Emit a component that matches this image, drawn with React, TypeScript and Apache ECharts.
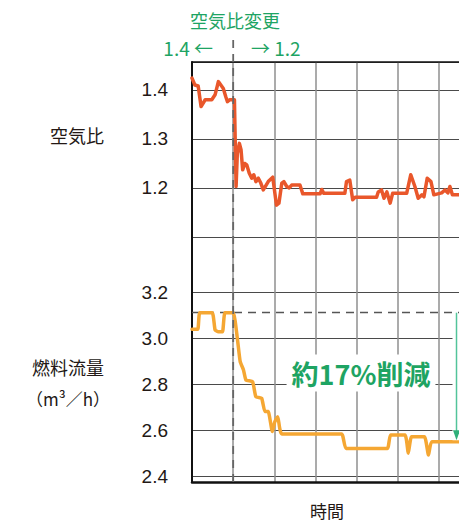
import React, { useEffect, useRef } from "react";
import * as echarts from "echarts";

// Time axis (in grid-interval units); the dashed line marks the change at t = 1
const airTime = [0, 0.07, 0.15, 0.22, 0.32, 0.48, 0.56, 0.64, 0.7, 0.76, 0.82, 0.86, 0.92, 1.03, 1.07, 1.1, 1.15, 1.19, 1.23, 1.28, 1.33, 1.39, 1.45, 1.5, 1.55, 1.61, 1.67, 1.73, 1.8, 1.85, 1.96, 2.05, 2.11, 2.18, 2.23, 2.3, 2.36, 2.42, 2.62, 2.69, 3.11, 3.15, 3.2, 3.71, 3.75, 3.83, 3.9, 3.96, 4.48, 4.52, 4.6, 4.66, 4.73, 4.81, 4.87, 5.21, 5.31, 5.41, 5.49, 5.58, 5.63, 5.71, 5.8, 5.87, 6.06, 6.14, 6.21, 6.26, 6.32, 6.6];
const airRatio = [1.424, 1.41, 1.408, 1.366, 1.38, 1.38, 1.39, 1.417, 1.41, 1.403, 1.386, 1.376, 1.38, 1.38, 1.203, 1.27, 1.291, 1.278, 1.237, 1.25, 1.247, 1.23, 1.22, 1.227, 1.213, 1.22, 1.21, 1.196, 1.206, 1.213, 1.222, 1.165, 1.169, 1.21, 1.213, 1.203, 1.2, 1.206, 1.206, 1.188, 1.188, 1.197, 1.189, 1.189, 1.213, 1.216, 1.176, 1.181, 1.181, 1.192, 1.196, 1.179, 1.192, 1.169, 1.189, 1.189, 1.227, 1.203, 1.179, 1.186, 1.182, 1.22, 1.213, 1.186, 1.19, 1.196, 1.19, 1.203, 1.186, 1.186];

const fuelTime = [0, 0.14, 0.19, 0.49, 0.56, 0.64, 0.74, 0.8, 1.0, 1.1, 1.17, 1.25, 1.31, 1.47, 1.55, 1.69, 1.77, 1.85, 1.95, 2.01, 2.08, 2.18, 3.63, 3.74, 4.74, 4.82, 5.17, 5.25, 5.33, 5.64, 5.74, 5.82, 6.6];
const fuelFlow = [3.038, 3.038, 3.11, 3.11, 3.035, 3.027, 3.027, 3.11, 3.11, 2.999, 2.897, 2.861, 2.817, 2.81, 2.745, 2.738, 2.68, 2.68, 2.593, 2.636, 2.658, 2.583, 2.583, 2.52, 2.52, 2.578, 2.578, 2.499, 2.571, 2.571, 2.491, 2.549, 2.549];

const airTicks = { min: 1.1, max: 1.457, interval: 0.1 };
const fuelTicks = { min: 2.4, max: 3.2, interval: 0.2 };
const timeTicks = { min: 0, max: 7, interval: 1 };
const changeTime = 1;
const beforeFuel = 3.11;
const afterFuel = 2.555;
const arrowTime = 6.42;

const texts = {
  change: "空気比変更",
  before: "1.4 ←",
  after: "→ 1.2",
  airName: "空気比",
  fuelName: "燃料流量",
  fuelUnit: "（m³／h）",
  time: "時間",
  reduction: "約17%削減",
};

const GREEN = "#1ea463";
const DARK = "#231815";
const JP = "'Noto Sans CJK JP', 'Noto Sans', sans-serif";
const NUM = "'Liberation Sans', Arial, sans-serif";

export default function App() {
  const ref = useRef<HTMLDivElement>(null);
  useEffect(() => {
    if (!ref.current) return;
    const chart = echarts.init(ref.current, undefined, { renderer: "svg" });
    const gridLeft = 192;
    const gridWidth = 288.4;
    const hidden = { show: false };
    const gridBase = { left: gridLeft, width: gridWidth, outerBoundsMode: "none", containLabel: false };
    chart.setOption({
      animation: false,
      backgroundColor: "#ffffff",
      grid: [
        { ...gridBase, top: 62, height: 175 },
        { ...gridBase, top: 292, height: 184 },
        { ...gridBase, top: 62, height: 420 },
      ],
      xAxis: [
        { gridIndex: 0, type: "value", ...timeTicks, show: false },
        { gridIndex: 1, type: "value", ...timeTicks, show: false },
        {
          gridIndex: 2, type: "value", ...timeTicks, position: "bottom",
          axisLine: { show: true, lineStyle: { color: "#111", width: 2.5 } },
          axisTick: hidden, axisLabel: hidden,
          splitLine: { show: true, lineStyle: { color: "#8f8f8f", width: 1.5 } },
        },
        {
          gridIndex: 2, type: "value", ...timeTicks, position: "top",
          axisLine: { show: true, lineStyle: { color: "#111", width: 1.5 } },
          axisTick: hidden, axisLabel: hidden, splitLine: hidden,
        },
      ],
      yAxis: [
        {
          gridIndex: 0, type: "value", ...airTicks,
          axisLine: hidden, axisTick: hidden,
          axisLabel: { showMinLabel: false, showMaxLabel: false, margin: 24, color: DARK, fontSize: 19, fontFamily: NUM, formatter: (v: number) => v.toFixed(1) },
          splitLine: { show: true, lineStyle: { color: "#4a4a4a", width: 1 } },
        },
        {
          gridIndex: 1, type: "value", ...fuelTicks,
          axisLine: hidden, axisTick: hidden,
          axisLabel: { margin: 24, color: DARK, fontSize: 19, fontFamily: NUM, formatter: (v: number) => v.toFixed(1) },
          splitLine: { show: true, lineStyle: { color: "#4a4a4a", width: 1 } },
        },
        {
          gridIndex: 2, type: "value", min: 0, max: 1,
          axisLine: { show: true, lineStyle: { color: "#111", width: 2 } },
          axisTick: hidden, axisLabel: hidden, splitLine: hidden,
        },
      ],
      series: [
        {
          type: "line", xAxisIndex: 0, yAxisIndex: 0,
          data: airTime.map((t, i) => [t, airRatio[i]]),
          symbol: "none", z: 5,
          lineStyle: { color: "#e9572b", width: 3.5, cap: "round", join: "round" },
        },
        {
          type: "line", xAxisIndex: 1, yAxisIndex: 1,
          data: fuelTime.map((t, i) => [t, fuelFlow[i]]),
          symbol: "none", z: 5, smooth: 0.15,
          lineStyle: { color: "#f5a733", width: 3.5, cap: "round", join: "round" },
          markLine: {
            silent: true, symbol: "none", label: { show: false },
            lineStyle: { color: "#555", type: [8, 6], width: 1.3 },
            data: [{ yAxis: beforeFuel }],
          },
        },
      ],
    });

    const xChange = chart.convertToPixel({ xAxisIndex: 2 }, changeTime) as number;
    const xArrow = chart.convertToPixel({ xAxisIndex: 1 }, arrowTime) as number;
    const yTopArrow = chart.convertToPixel({ yAxisIndex: 1 }, beforeFuel) as number;
    const yBotArrow = chart.convertToPixel({ yAxisIndex: 1 }, afterFuel) as number;

    chart.setOption({
      graphic: [
        { type: "line", z: 10, shape: { x1: xChange, y1: 40, x2: xChange, y2: 482 }, style: { stroke: "#666", lineWidth: 1.8, lineDash: [8, 6] } },
        { type: "rect", z: 8, shape: { x: xArrow - 4, y: yTopArrow + 4, width: 20, height: yBotArrow - yTopArrow - 4 }, style: { fill: "#fff" } },
        { type: "line", z: 11, shape: { x1: xArrow, y1: yTopArrow, x2: xArrow, y2: yBotArrow - 8 }, style: { stroke: "#52c49a", lineWidth: 1.5 } },
        { type: "polygon", z: 11, shape: { points: [[xArrow - 3.5, yBotArrow - 10], [xArrow + 3.5, yBotArrow - 10], [xArrow, yBotArrow]] }, style: { fill: "#2fb07a" } },
        { type: "text", z: 12, x: 235, y: 20, style: { text: texts.change, fill: GREEN, font: `18px ${JP}`, align: "center", verticalAlign: "middle" } },
        { type: "text", z: 12, x: 213, y: 47, style: { text: texts.before, fill: GREEN, font: `19px ${JP}`, align: "right", verticalAlign: "middle" } },
        { type: "text", z: 12, x: 251, y: 47, style: { text: texts.after, fill: GREEN, font: `19px ${JP}`, align: "left", verticalAlign: "middle" } },
        { type: "text", z: 12, x: 77, y: 135, style: { text: texts.airName, fill: DARK, font: `18px ${JP}`, align: "center", verticalAlign: "middle" } },
        { type: "text", z: 12, x: 68, y: 367, style: { text: texts.fuelName, fill: DARK, font: `18px ${JP}`, align: "center", verticalAlign: "middle" } },
        { type: "text", z: 12, x: 68, y: 398, style: { text: texts.fuelUnit, fill: DARK, font: `17px ${JP}`, align: "center", verticalAlign: "middle" } },
        { type: "text", z: 12, x: 327, y: 510, style: { text: texts.time, fill: DARK, font: `17px ${JP}`, align: "center", verticalAlign: "middle" } },
        { type: "text", z: 12, x: 361, y: 373, style: { text: texts.reduction, fill: GREEN, font: `bold 27px ${JP}`, align: "center", verticalAlign: "middle", backgroundColor: "#fff", padding: [5, 5, 5, 5] } },
      ],
    });
    return () => chart.dispose();
  }, []);
  return <div ref={ref} style={{ position: "fixed", left: 0, top: 0, width: 459, height: 522 }} />;
}
